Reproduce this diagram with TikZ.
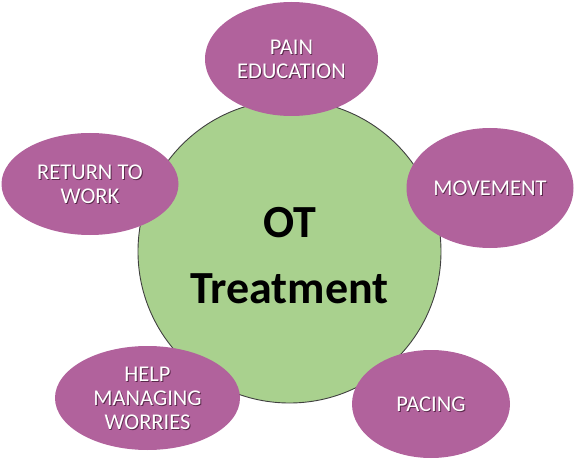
\documentclass[tikz,border=0pt]{standalone}
\usepackage{fontspec}
\setmainfont{Carlito}
\usetikzlibrary{shapes.geometric}
\definecolor{petal}{RGB}{177,98,156}
\definecolor{core}{RGB}{169,209,142}
\definecolor{rim}{RGB}{64,64,64}
\definecolor{shade}{RGB}{90,40,75}
\newcommand\shd[1]{\makebox[0pt][l]{\hspace{0.9pt}\raisebox{-0.9pt}{\color{shade}#1}}#1}
\tikzset{
  petal/.style={ellipse, fill=petal, draw=none, inner sep=0pt, text=white,
    align=center, text depth=0pt, font=\fontsize{22.5}{24}\selectfont},
  core/.style={circle, fill=core, draw=rim, line width=0.9pt, inner sep=0pt,
    minimum size=303pt},
  title/.style={align=center, font=\fontsize{46}{66}\selectfont\bfseries, text=black, inner sep=0pt}
}
\begin{document}
\begin{tikzpicture}[x=1pt,y=-1pt]
\useasboundingbox (0,0) rectangle (574,460);
\node[core] (c) at (289.5,251.5) {};
\node[title] (t) at (289.5,255.5) {OT\\Treatment};
\node[petal, minimum width=173pt, minimum height=114pt] (pain) at (291.5,59) {\shd{PAIN}\\\shd{EDUCATION}};
\node[petal, minimum width=167pt, minimum height=120pt] (move) at (490,188) {\shd{MOVEMENT}};
\node[petal, minimum width=177pt, minimum height=102pt] (ret) at (90,184) {\shd{RETURN TO}\\\shd{WORK}};
\node[petal, minimum width=185pt, minimum height=104pt] (help) at (147.5,398) {\shd{HELP}\\\shd{MANAGING}\\\shd{WORRIES}};
\node[petal, minimum width=158pt, minimum height=108pt] (pace) at (431,404) {\shd{PACING}};
\end{tikzpicture}
\end{document}
